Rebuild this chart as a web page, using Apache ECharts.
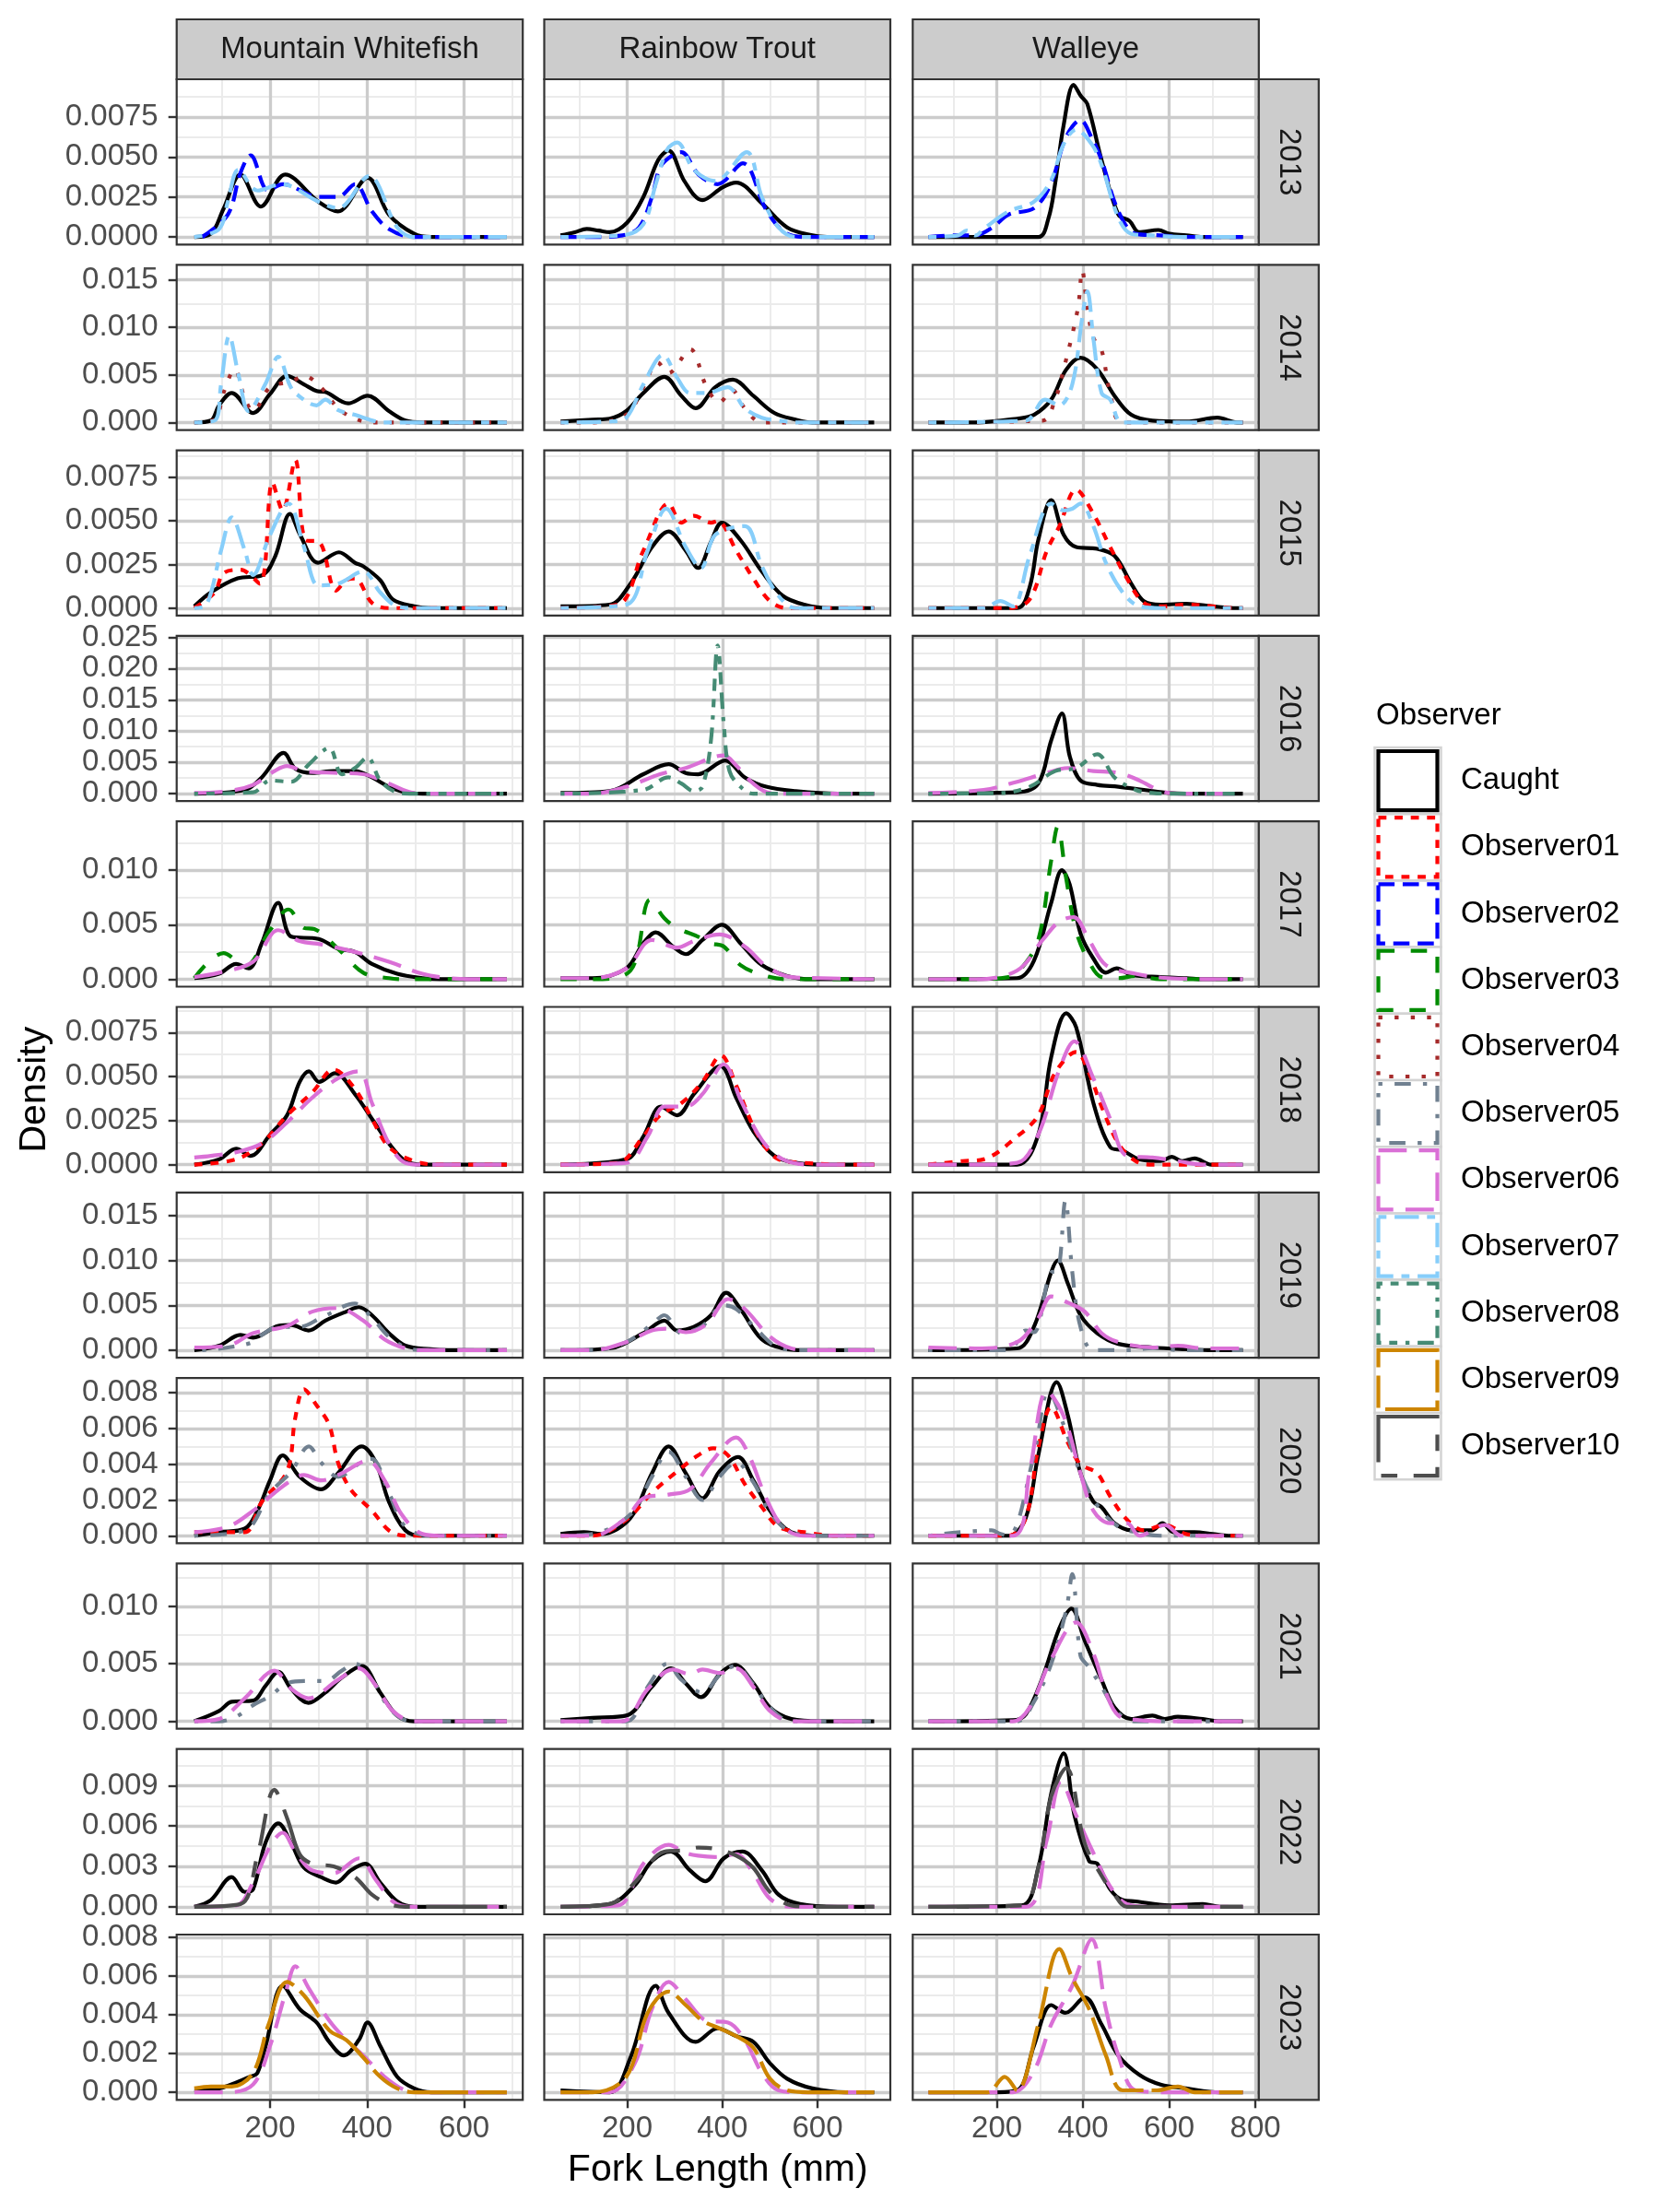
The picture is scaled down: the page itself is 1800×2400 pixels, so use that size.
<!DOCTYPE html>
<html>
<head>
<meta charset="utf-8">
<script src="https://cdn.jsdelivr.net/npm/echarts@6/dist/echarts.min.js"></script>
<style>
  html, body { margin: 0; padding: 0; background: #fff; }
  #chart { width: 1800px; height: 2400px; }
</style>
</head>
<body>
<div id="chart"></div>
<script>
// facets, observers and scales
var species = ['Mountain Whitefish', 'Rainbow Trout', 'Walleye'];
var years = ['2013', '2014', '2015', '2016', '2017', '2018', '2019', '2020', '2021', '2022', '2023'];
var observers = ['Caught', 'Observer01', 'Observer02', 'Observer03', 'Observer04', 'Observer05',
  'Observer06', 'Observer07', 'Observer08', 'Observer09', 'Observer10'];
var obsColors = ['#000000', '#FF0000', '#0000FF', '#008B00', '#A52A2A', '#708090',
  '#DA70D6', '#87CEFA', '#458B74', '#CD8500', '#4D4D4D'];
var obsLty = ['solid', '22', '42', '44', '13', '1343', '73', '2262', '12223242', 'F282', 'F4448444'];

var xLimits = [[7.6, 720.8], [25.7, 752.9], [4.6, 808]];
var xBreaks = [[200, 400, 600], [200, 400, 600], [200, 400, 600, 800]];

var yLimits = [[-0.00047, 0.00985], [-0.0008, 0.01658], [-0.00043, 0.00905], [-0.0012, 0.02523],
  [-0.00068, 0.01448], [-0.00043, 0.00896], [-0.00084, 0.0176], [-0.00042, 0.00883],
  [-0.00065, 0.01372], [-0.00056, 0.01172], [-0.00039, 0.00814]];
var yBreaks = [[0, 0.0025, 0.005, 0.0075], [0, 0.005, 0.01, 0.015], [0, 0.0025, 0.005, 0.0075],
  [0, 0.005, 0.01, 0.015, 0.02, 0.025], [0, 0.005, 0.01], [0, 0.0025, 0.005, 0.0075],
  [0, 0.005, 0.01, 0.015], [0, 0.002, 0.004, 0.006, 0.008], [0, 0.005, 0.01],
  [0, 0.003, 0.006, 0.009], [0, 0.002, 0.004, 0.006, 0.008]];
var yDigits = [4, 3, 4, 3, 3, 4, 3, 3, 3, 3, 3];

// density curves: [fork length, density]
var mwf13_caught = [[44,0],[78,0.0002],[104,0.00175],[139,0.0039],[181,0.0019],[231,0.0039],[300,0.0022],[340,0.0016],[401,0.0037],[445,0.0014],[497,0.0002],[532,0],[688,0]];
var mwf13_obs02 = [[60,0],[113,0.0014],[139,0.004],[160,0.0051],[196,0.0029],[226,0.0033],[300,0.0025],[340,0.0025],[375,0.0033],[410,0.0016],[445,0.0005],[497,0],[688,0]];
var mwf13_obs07 = [[44,0],[95,0.0005],[113,0.0022],[135,0.0042],[174,0.0029],[223,0.0033],[300,0.0022],[340,0.0018],[404,0.0038],[462,0.0006],[497,0],[688,0]];
var rbt13_caught = [[60,0.0001],[90,0.0003],[115,0.0005],[140,0.0004],[163,0.0003],[200,0.0009],[234,0.0025],[265,0.0048],[287,0.0054],[320,0.0035],[358,0.0023],[400,0.0031],[429,0.0034],[483,0.0021],[536,0.0006],[589,0.0001],[620,0],[719,0]];
var rbt13_obs02 = [[60,0],[127,0],[190,0.0001],[225,0.0006],[252,0.0025],[270,0.0044],[300,0.0052],[314,0.0053],[350,0.0039],[390,0.0033],[443,0.0046],[492,0.0017],[536,0.0002],[580,0],[719,0]];
var rbt13_obs07 = [[60,0],[190,0.0001],[234,0.0008],[260,0.0033],[285,0.0055],[305,0.0059],[340,0.0042],[385,0.0035],[451,0.0053],[483,0.0025],[518,0.0006],[554,0],[719,0]];
var wae13_caught = [[41,0],[296,0],[320,0.0012],[335,0.0033],[355,0.007],[378,0.0095],[395,0.0088],[410,0.0083],[443,0.0048],[482,0.0014],[508,0.001],[530,0.0003],[575,0.00044],[600,0.0002],[640,0.0001],[678,0],[771,0]];
var wae13_obs02 = [[41,0],[100,0.0001],[149,0.0001],[190,0.0006],[227,0.0014],[286,0.0018],[325,0.0033],[360,0.0062],[394,0.0073],[420,0.0062],[443,0.0048],[482,0.0016],[522,0.0002],[580,0.0001],[640,0],[771,0]];
var wae13_obs07 = [[41,0],[110,0.0001],[130,0.0004],[150,0.0001],[169,0.0005],[227,0.0016],[286,0.0022],[325,0.0035],[355,0.0058],[384,0.0067],[420,0.0058],[443,0.0045],[482,0.0012],[512,0.0002],[560,0.0001],[640,0],[771,0]];

var mwf14_caught = [[44,0],[78,0.0002],[95,0.0018],[121,0.0031],[165,0.001],[200,0.003],[235,0.0049],[270,0.004],[296,0.0033],[314,0.0032],[361,0.002],[401,0.0028],[445,0.0012],[479,0.0002],[514,0],[688,0]];
var mwf14_obs04 = [[44,0],[86,0.0003],[104,0.0031],[127,0.0056],[148,0.0025],[165,0.0012],[200,0.0037],[244,0.0043],[270,0.0049],[305,0.0037],[340,0.0015],[375,0.0004],[410,0],[688,0]];
var mwf14_obs07 = [[44,0],[86,0.0002],[99,0.004],[116,0.0091],[135,0.005],[156,0.0012],[190,0.004],[217,0.0069],[240,0.004],[252,0.0031],[296,0.0018],[314,0.0024],[340,0.0013],[375,0.0008],[418,0.0001],[436,0],[688,0]];
var rbt14_caught = [[60,0.0001],[127,0.0003],[163,0.0004],[198,0.0012],[234,0.0031],[278,0.0048],[314,0.0028],[344,0.0015],[385,0.0037],[422,0.0045],[465,0.0028],[509,0.001],[554,0.0003],[589,0],[719,0]];
var rbt14_obs04 = [[60,0],[127,0],[198,0.0008],[234,0.0037],[264,0.0063],[287,0.0052],[332,0.0077],[367,0.0037],[394,0.0021],[420,0.0034],[447,0.0015],[483,0],[719,0]];
var rbt14_obs07 = [[60,0],[163,0.0001],[198,0.0005],[234,0.004],[275,0.0071],[305,0.0047],[332,0.0031],[367,0.0031],[411,0.0037],[447,0.0015],[483,0.0005],[518,0.0002],[560,0],[719,0]];
var wae14_caught = [[41,0],[150,0],[247,0.0004],[286,0.0008],[326,0.0024],[360,0.0055],[394,0.0068],[433,0.0056],[473,0.0028],[512,0.0008],[561,0.0002],[640,0.0001],[712,0.0005],[757,0],[771,0]];
var wae14_obs04 = [[41,0],[306,0.0002],[335,0.0024],[355,0.0056],[388,0.012],[398,0.016],[410,0.012],[424,0.0089],[443,0.0076],[463,0.0031],[492,0],[771,0]];
var wae14_obs07 = [[41,0],[267,0.0002],[312,0.0024],[345,0.0018],[375,0.004],[398,0.011],[410,0.0138],[424,0.0088],[443,0.0031],[463,0.0024],[492,0],[771,0]];

var mwf15_caught = [[44,0.0001],[78,0.0009],[133,0.0017],[185,0.0019],[211,0.003],[241,0.0054],[262,0.0042],[299,0.0026],[342,0.0032],[375,0.0026],[392,0.0024],[427,0.0016],[453,0.0005],[497,0.0001],[532,0],[688,0]];
var mwf15_obs01 = [[44,0],[86,0.0009],[104,0.002],[139,0.0022],[179,0.0014],[205,0.0072],[226,0.0056],[252,0.0085],[273,0.0039],[301,0.0038],[336,0.001],[357,0.0016],[375,0.0017],[410,0.0003],[445,0],[688,0]];
var mwf15_obs07 = [[44,0],[69,0.0002],[99,0.0033],[121,0.0052],[148,0.0033],[165,0.0019],[200,0.0042],[238,0.006],[270,0.0035],[300,0.0013],[340,0.0014],[392,0.0021],[427,0.0009],[462,0.0001],[497,0],[688,0]];
var rbt15_caught = [[60,0.0001],[163,0.0002],[207,0.0014],[252,0.0035],[287,0.0044],[323,0.0033],[349,0.0023],[376,0.0038],[399,0.0049],[438,0.0039],[483,0.0021],[527,0.0007],[572,0.0002],[625,0],[719,0]];
var rbt15_obs01 = [[60,0],[180,0.0002],[234,0.0033],[287,0.006],[314,0.0049],[340,0.0053],[376,0.0049],[390,0.005],[429,0.0033],[465,0.0017],[500,0.0004],[536,0],[719,0]];
var rbt15_obs07 = [[60,0],[198,0.0002],[243,0.0033],[282,0.0057],[323,0.0035],[355,0.0023],[385,0.0042],[447,0.0047],[483,0.0024],[518,0.0007],[554,0],[719,0]];
var wae15_caught = [[41,0],[247,0],[276,0.0012],[296,0.0039],[326,0.0062],[355,0.0042],[384,0.0035],[433,0.0034],[473,0.003],[512,0.0014],[541,0.0004],[580,0.0002],[640,0.00025],[700,0.0001],[757,0],[771,0]];
var wae15_obs01 = [[41,0],[227,0],[276,0.0005],[316,0.0033],[345,0.0047],[384,0.0068],[424,0.0054],[463,0.0035],[502,0.0017],[541,0.0003],[580,0.0001],[640,0.0002],[700,0.0001],[757,0],[771,0]];
var wae15_obs07 = [[41,0],[170,0],[208,0.0004],[237,0.0001],[276,0.003],[326,0.006],[355,0.0056],[375,0.0057],[394,0.006],[424,0.0047],[453,0.0026],[492,0.0009],[531,0.0001],[580,0],[771,0]];

var mwf16_caught = [[44,0],[148,0.0006],[183,0.0026],[228,0.0065],[252,0.004],[287,0.0033],[331,0.0036],[375,0.0036],[410,0.0026],[445,0.0011],[479,0.0002],[514,0],[688,0]];
var mwf16_obs06 = [[44,0.0001],[113,0.0004],[165,0.0014],[209,0.0036],[235,0.0044],[270,0.0036],[340,0.0033],[392,0.0031],[445,0.0016],[497,0.0001],[532,0],[688,0]];
var mwf16_obs08 = [[44,0],[165,0.0002],[200,0.0021],[244,0.0019],[279,0.0046],[322,0.0073],[348,0.0031],[375,0.0041],[401,0.0058],[427,0.0021],[462,0.0002],[497,0],[688,0]];
var rbt16_caught = [[60,0.0001],[163,0.0004],[234,0.0031],[287,0.0047],[323,0.0033],[349,0.0031],[406,0.0053],[447,0.0026],[492,0.0011],[554,0.0004],[643,0],[719,0]];
var rbt16_obs06 = [[60,0],[127,0],[198,0.0011],[269,0.0031],[323,0.0041],[403,0.0061],[429,0.0045],[465,0.0016],[500,0.0001],[536,0],[719,0]];
var rbt16_obs08 = [[60,0],[234,0.0006],[287,0.0026],[314,0.0016],[340,0.0004],[358,0.0011],[376,0.0085],[390,0.0237],[403,0.011],[415,0.0036],[438,0.0011],[465,0],[719,0]];
var wae16_caught = [[41,0],[247,0.0002],[296,0.0016],[326,0.0085],[351,0.0128],[369,0.006],[394,0.0021],[433,0.0014],[482,0.0011],[541,0.0006],[600,0.0001],[639,0],[771,0]];
var wae16_obs06 = [[41,0.0001],[169,0.0006],[247,0.0019],[306,0.0031],[365,0.0041],[424,0.0036],[482,0.0033],[531,0.0021],[580,0.0004],[620,0],[771,0]];
var wae16_obs08 = [[41,0],[208,0.0001],[276,0.0011],[335,0.0036],[384,0.0041],[433,0.0063],[473,0.0026],[522,0.0006],[561,0.0001],[600,0],[771,0]];

var mwf17_caught = [[44,0.0001],[95,0.0005],[130,0.0014],[156,0.001],[183,0.0033],[217,0.007],[244,0.0039],[300,0.0037],[340,0.0028],[375,0.0025],[410,0.0014],[462,0.0005],[514,0.0001],[549,0],[688,0]];
var mwf17_obs03 = [[44,0.0001],[104,0.0024],[148,0.0012],[200,0.0045],[238,0.0064],[270,0.0047],[291,0.0046],[340,0.0028],[392,0.0006],[445,0.0001],[480,0],[688,0]];
var mwf17_obs06 = [[44,0.0002],[95,0.0006],[165,0.0016],[217,0.0045],[261,0.0035],[305,0.0032],[375,0.0025],[445,0.0016],[514,0.0005],[567,0.0001],[610,0],[688,0]];
var rbt17_caught = [[60,0.0001],[127,0.0001],[198,0.001],[234,0.0033],[260,0.0043],[296,0.003],[323,0.0023],[358,0.0036],[399,0.005],[438,0.0033],[483,0.0013],[536,0.0003],[589,0],[719,0]];
var rbt17_obs03 = [[60,0],[127,0],[207,0.0008],[248,0.0073],[278,0.0056],[305,0.0047],[349,0.0039],[376,0.0033],[403,0.003],[438,0.0013],[483,0.0004],[536,0],[719,0]];
var rbt17_obs06 = [[60,0.0001],[127,0.0001],[198,0.001],[252,0.0036],[305,0.0029],[340,0.0035],[394,0.0041],[447,0.003],[492,0.0012],[545,0.0002],[607,0.0001],[719,0]];
var wae17_caught = [[41,0],[247,0.0001],[286,0.0017],[326,0.007],[351,0.01],[369,0.0087],[394,0.0042],[424,0.0019],[453,0.0006],[478,0.001],[512,0.0004],[580,0.0002],[640,0.0001],[678,0],[771,0]];
var wae17_obs03 = [[41,0],[149,0],[227,0.0002],[257,0.001],[296,0.0036],[326,0.0109],[341,0.014],[361,0.0092],[384,0.0044],[414,0.0016],[443,0.0002],[482,0.0001],[522,0.0003],[580,0],[771,0]];
var wae17_obs06 = [[41,0],[149,0],[247,0.0008],[306,0.0036],[345,0.0053],[378,0.0057],[414,0.0036],[453,0.0013],[522,0.0005],[600,0.0001],[757,0],[771,0]];

var mwf18_caught = [[44,0],[95,0.0003],[130,0.0009],[160,0.0005],[200,0.0017],[235,0.0028],[261,0.0047],[280,0.0053],[301,0.0047],[334,0.0052],[375,0.004],[410,0.0026],[445,0.0012],[479,0.0002],[514,0],[688,0]];
var mwf18_obs01 = [[44,0],[130,0.0003],[183,0.0012],[235,0.0028],[287,0.0041],[331,0.0054],[375,0.0043],[410,0.0026],[445,0.001],[497,0.0002],[549,0],[688,0]];
var mwf18_obs06 = [[44,0.0004],[78,0.0005],[130,0.0007],[183,0.0012],[235,0.0024],[287,0.0038],[340,0.0049],[383,0.0053],[410,0.0035],[445,0.0012],[479,0.0001],[514,0],[688,0]];
var rbt18_caught = [[60,0],[198,0.0003],[234,0.0016],[271,0.0033],[305,0.0028],[340,0.004],[396,0.0056],[429,0.0038],[465,0.0019],[509,0.0005],[554,0.0001],[607,0],[719,0]];
var rbt18_obs01 = [[60,0],[180,0.0001],[234,0.0016],[269,0.0028],[314,0.0035],[358,0.0047],[397,0.0062],[429,0.0045],[474,0.0017],[518,0.0003],[572,0.0001],[660,0],[719,0]];
var rbt18_obs06 = [[60,0],[198,0.0001],[243,0.0016],[278,0.0033],[323,0.0033],[358,0.004],[403,0.0057],[438,0.0037],[483,0.0014],[527,0.0003],[589,0],[719,0]];
var wae18_caught = [[41,0],[247,0],[296,0.0017],[326,0.0061],[361,0.0086],[384,0.0078],[424,0.0035],[463,0.001],[492,0.0008],[531,0.0003],[580,0.0002],[606,0.00044],[630,0.0002],[659,0.00035],[698,0],[771,0]];
var wae18_obs01 = [[41,0],[120,0.0002],[169,0.0003],[247,0.0016],[296,0.0028],[335,0.0052],[384,0.0064],[414,0.0052],[443,0.0033],[482,0.0012],[522,0.0002],[561,0],[771,0]];
var wae18_obs06 = [[41,0],[149,0],[247,0.0001],[296,0.0017],[345,0.0054],[380,0.007],[424,0.0049],[463,0.0026],[502,0.0005],[561,0.0004],[620,0.0002],[678,0],[771,0]];

var mwf19_caught = [[44,0],[95,0.0005],[139,0.0017],[165,0.0014],[217,0.0027],[244,0.0028],[279,0.0022],[314,0.0033],[357,0.0043],[383,0.0048],[410,0.0039],[445,0.0019],[479,0.0005],[532,0.0001],[567,0],[688,0]];
var mwf19_obs05 = [[60,0],[113,0.0003],[165,0.0009],[183,0.0017],[217,0.0026],[261,0.0026],[305,0.0036],[375,0.0052],[410,0.0036],[445,0.0015],[479,0.0003],[514,0],[688,0]];
var mwf19_obs06 = [[44,0.0003],[113,0.0005],[165,0.0019],[235,0.0027],[287,0.0043],[340,0.0047],[392,0.0033],[436,0.0012],[479,0.0002],[514,0],[688,0]];
var rbt19_caught = [[60,0],[163,0.0002],[234,0.0019],[278,0.0033],[305,0.0022],[340,0.0026],[376,0.0039],[408,0.0064],[438,0.0046],[483,0.0012],[527,0.0002],[572,0],[719,0]];
var rbt19_obs05 = [[60,0],[127,0],[198,0.0009],[252,0.0029],[278,0.0039],[314,0.0019],[358,0.0027],[403,0.005],[429,0.0046],[474,0.0022],[518,0.0003],[572,0],[719,0]];
var rbt19_obs06 = [[60,0],[127,0],[198,0.0009],[252,0.0022],[287,0.0024],[323,0.002],[367,0.0029],[412,0.0057],[447,0.0046],[500,0.0015],[545,0.0002],[590,0],[719,0]];
var wae19_caught = [[41,0],[247,0.0002],[286,0.0026],[326,0.0087],[341,0.01],[365,0.0074],[394,0.0039],[433,0.0019],[482,0.0007],[561,0.0003],[639,0.0001],[700,0],[771,0]];
var wae19_obs05 = [[41,0],[227,0],[267,0.0022],[286,0.002],[326,0.0087],[341,0.0088],[359,0.0167],[375,0.0087],[394,0.0026],[424,0],[500,0],[580,0.0003],[620,0],[771,0]];
var wae19_obs06 = [[41,0.0003],[149,0.0002],[247,0.0009],[296,0.0036],[326,0.006],[365,0.0053],[404,0.0043],[443,0.0019],[482,0.0009],[561,0.0003],[620,0.0005],[680,0.0002],[771,0.0002]];

var mwf20_caught = [[44,0],[95,0.0002],[148,0.0004],[174,0.0014],[200,0.0031],[226,0.0045],[261,0.0033],[305,0.0026],[340,0.0035],[389,0.005],[418,0.0041],[445,0.0019],[479,0.0003],[514,0],[688,0]];
var mwf20_obs01 = [[44,0.0002],[95,0.0002],[148,0.0002],[183,0.0019],[235,0.0036],[252,0.0066],[270,0.0082],[296,0.0073],[322,0.0062],[340,0.0041],[366,0.0026],[410,0.0014],[445,0.0003],[479,0],[688,0]];
var mwf20_obs05 = [[44,0],[148,0.0003],[200,0.0024],[244,0.0036],[280,0.005],[305,0.0041],[340,0.0033],[392,0.0042],[410,0.0043],[445,0.0024],[479,0.0005],[532,0],[688,0]];
var mwf20_obs06 = [[44,0.0002],[113,0.0005],[165,0.0014],[209,0.0024],[244,0.0031],[270,0.0034],[305,0.0031],[348,0.0035],[401,0.0042],[436,0.0031],[471,0.0012],[514,0.0001],[549,0],[688,0]];
var rbt20_caught = [[60,0.0001],[109,0.0002],[145,0.0001],[207,0.001],[252,0.0035],[287,0.005],[323,0.0035],[358,0.0021],[394,0.0036],[433,0.0044],[465,0.0031],[500,0.0014],[545,0.0002],[607,0],[719,0]];
var rbt20_obs01 = [[60,0],[127,0],[198,0.0009],[252,0.0024],[305,0.0036],[349,0.0045],[381,0.0049],[412,0.0045],[447,0.0029],[483,0.0016],[518,0.0005],[572,0.0002],[640,0],[719,0]];
var rbt20_obs05 = [[60,0],[127,0.0001],[207,0.0012],[252,0.0033],[287,0.0047],[323,0.0033],[358,0.002],[394,0.0033],[429,0.0041],[465,0.003],[500,0.0013],[545,0.0002],[607,0],[719,0]];
var rbt20_obs06 = [[60,0],[127,0],[198,0.001],[234,0.0021],[287,0.0023],[332,0.0026],[376,0.0041],[429,0.0055],[456,0.0045],[492,0.0021],[527,0.0005],[572,0],[719,0]];
var wae20_caught = [[41,0],[227,0],[267,0.001],[296,0.0045],[339,0.0086],[365,0.0067],[394,0.0035],[424,0.0019],[443,0.0016],[473,0.0007],[512,0.0003],[560,0.0003],[584,0.0007],[610,0.0002],[659,0.0002],[700,0.0001],[737,0],[771,0]];
var wae20_obs01 = [[41,0],[227,0],[267,0.001],[296,0.0049],[326,0.0072],[365,0.0052],[394,0.004],[433,0.0035],[463,0.0022],[502,0.0009],[541,0.0003],[590,0.0006],[639,0.0001],[700,0],[771,0]];
var wae20_obs05 = [[41,0],[188,0.0003],[208,0.0001],[227,0],[286,0.0045],[320,0.0081],[355,0.0062],[394,0.0035],[433,0.0017],[482,0.0005],[522,0.0002],[580,0],[771,0]];
var wae20_obs06 = [[41,0],[237,0],[276,0.0036],[316,0.0081],[355,0.0067],[394,0.0035],[424,0.0014],[463,0.0007],[502,0.0007],[531,0],[590,0.0006],[629,0],[771,0]];

var mwf21_caught = [[44,0],[95,0.0009],[121,0.0017],[165,0.0018],[191,0.0031],[217,0.0043],[244,0.0028],[279,0.0016],[314,0.0025],[348,0.0038],[389,0.0048],[427,0.0025],[462,0.0005],[497,0],[688,0]];
var mwf21_obs05 = [[44,0],[95,0],[130,0.0004],[165,0.0014],[200,0.0022],[235,0.0033],[270,0.0035],[314,0.0035],[348,0.0044],[375,0.005],[410,0.0036],[445,0.0012],[479,0.0001],[514,0],[688,0]];
var mwf21_obs06 = [[44,0],[95,0.0002],[148,0.002],[209,0.0044],[244,0.0028],[279,0.002],[340,0.0036],[383,0.0046],[418,0.0031],[453,0.0009],[497,0],[688,0]];
var rbt21_caught = [[60,0.0001],[127,0.0003],[198,0.0005],[252,0.003],[292,0.0046],[323,0.0033],[355,0.0021],[394,0.0041],[426,0.0049],[465,0.0033],[500,0.0012],[545,0.0002],[607,0],[719,0]];
var rbt21_obs05 = [[60,0],[198,0],[243,0.003],[284,0.005],[314,0.0036],[358,0.0025],[394,0.004],[426,0.0048],[465,0.0032],[500,0.0012],[545,0],[719,0]];
var rbt21_obs06 = [[60,0],[189,0],[243,0.0028],[296,0.0045],[332,0.0041],[358,0.0045],[394,0.0042],[429,0.0046],[465,0.003],[500,0.0009],[545,0],[719,0]];
var wae21_caught = [[41,0],[237,0.0001],[267,0.0006],[306,0.0038],[345,0.0081],[373,0.0098],[404,0.007],[443,0.0036],[473,0.0012],[512,0.0002],[561,0.0005],[590,0.0002],[620,0.0004],[678,0.0002],[718,0],[771,0]];
var wae21_obs05 = [[41,0],[247,0],[286,0.0017],[326,0.005],[361,0.0097],[375,0.0128],[394,0.0057],[414,0.0047],[443,0.003],[482,0.0007],[522,0],[771,0]];
var wae21_obs06 = [[41,0],[237,0],[276,0.0012],[326,0.0054],[384,0.0086],[424,0.0059],[453,0.0025],[482,0.0005],[531,0.0001],[600,0],[771,0]];

var mwf22_caught = [[44,0],[78,0.0005],[121,0.0022],[148,0.0011],[165,0.0013],[191,0.0048],[217,0.0062],[244,0.0047],[270,0.0029],[305,0.0022],[336,0.0018],[366,0.0027],[396,0.0032],[427,0.0018],[462,0.0004],[497,0],[688,0]];
var mwf22_obs06 = [[44,0],[130,0.0001],[165,0.0018],[200,0.0045],[226,0.0055],[252,0.0041],[287,0.0027],[331,0.0025],[383,0.0036],[418,0.002],[453,0.0004],[488,0],[688,0]];
var mwf22_obs10 = [[44,0],[139,0.0002],[174,0.0038],[209,0.0087],[235,0.0066],[261,0.0039],[287,0.0032],[331,0.003],[375,0.0022],[410,0.0009],[445,0.0002],[479,0],[688,0]];
var rbt22_caught = [[60,0],[163,0.0002],[216,0.0016],[252,0.0034],[292,0.0041],[332,0.0027],[364,0.0019],[403,0.0036],[442,0.0041],[483,0.0027],[518,0.0009],[563,0.0002],[643,0],[719,0]];
var rbt22_obs06 = [[60,0],[180,0.0001],[234,0.0032],[287,0.0046],[323,0.004],[349,0.0038],[385,0.0037],[429,0.0039],[465,0.0025],[500,0.0006],[545,0],[719,0]];
var rbt22_obs10 = [[60,0],[163,0.0002],[216,0.0018],[278,0.0041],[323,0.0042],[349,0.0044],[385,0.0043],[429,0.0038],[465,0.0029],[500,0.0011],[545,0.0001],[590,0],[719,0]];
var wae22_caught = [[41,0],[257,0.0001],[296,0.0029],[326,0.0084],[355,0.0114],[380,0.0068],[414,0.0034],[433,0.0032],[463,0.0013],[492,0.0005],[522,0.0004],[600,0.0001],[678,0.0002],[718,0],[771,0]];
var wae22_obs06 = [[41,0],[267,0],[316,0.005],[349,0.0093],[384,0.0068],[424,0.004],[463,0.0015],[502,0.0002],[561,0],[771,0]];
var wae22_obs10 = [[41,0],[257,0.0001],[296,0.0029],[326,0.0082],[361,0.0103],[404,0.0047],[443,0.0023],[473,0.0009],[502,0],[771,0]];

var mwf23_caught = [[44,0.0001],[95,0.0002],[159,0.0008],[174,0.001],[191,0.0024],[226,0.0055],[261,0.0043],[296,0.0036],[322,0.0026],[352,0.0019],[383,0.0027],[401,0.0036],[427,0.0024],[462,0.0008],[497,0.0002],[532,0],[688,0]];
var mwf23_obs06 = [[44,0],[113,0],[165,0.0004],[200,0.0024],[235,0.0054],[252,0.0065],[279,0.0054],[322,0.0037],[357,0.0027],[392,0.0019],[436,0.0008],[479,0.0001],[514,0],[688,0]];
var mwf23_obs09 = [[44,0.0002],[78,0.0003],[121,0.0003],[165,0.001],[197,0.0035],[235,0.0057],[270,0.005],[322,0.0032],[357,0.0027],[392,0.0018],[427,0.0008],[462,0.0002],[497,0],[688,0]];
var rbt23_caught = [[60,0.0001],[163,0],[207,0.0018],[260,0.0055],[287,0.0041],[344,0.0026],[390,0.0033],[429,0.0029],[465,0.0026],[500,0.0015],[536,0.0007],[589,0.0002],[660,0],[719,0]];
var rbt23_obs06 = [[60,0],[163,0],[216,0.0015],[252,0.0043],[287,0.0057],[323,0.0048],[367,0.0037],[412,0.0036],[447,0.0027],[483,0.001],[518,0.0001],[560,0],[719,0]];
var rbt23_obs09 = [[60,0],[127,0],[198,0.0008],[243,0.0041],[287,0.0052],[323,0.0045],[358,0.0037],[394,0.0033],[429,0.0029],[465,0.0023],[500,0.0007],[536,0.0001],[580,0],[719,0]];
var wae23_caught = [[41,0],[188,0],[247,0.0001],[286,0.0024],[326,0.0045],[359,0.0041],[404,0.0049],[443,0.0035],[482,0.0019],[531,0.0009],[580,0.0004],[639,0.0002],[718,0],[771,0]];
var wae23_obs06 = [[41,0],[237,0],[286,0.0011],[326,0.0035],[375,0.0055],[420,0.0079],[453,0.0043],[482,0.0019],[522,0.0001],[600,0],[771,0]];
var wae23_obs09 = [[41,0],[178,0],[218,0.0008],[247,0.0001],[296,0.0035],[345,0.0074],[375,0.0059],[414,0.0043],[453,0.0019],[492,0.0001],[571,0.0001],[620,0.0003],[659,0],[771,0]];

// [row (year), column (species), observer index, curve]
var panelCurves = [
  [0,0,0,mwf13_caught],[0,0,2,mwf13_obs02],[0,0,7,mwf13_obs07],
  [0,1,0,rbt13_caught],[0,1,2,rbt13_obs02],[0,1,7,rbt13_obs07],
  [0,2,0,wae13_caught],[0,2,2,wae13_obs02],[0,2,7,wae13_obs07],
  [1,0,0,mwf14_caught],[1,0,4,mwf14_obs04],[1,0,7,mwf14_obs07],
  [1,1,0,rbt14_caught],[1,1,4,rbt14_obs04],[1,1,7,rbt14_obs07],
  [1,2,0,wae14_caught],[1,2,4,wae14_obs04],[1,2,7,wae14_obs07],
  [2,0,0,mwf15_caught],[2,0,1,mwf15_obs01],[2,0,7,mwf15_obs07],
  [2,1,0,rbt15_caught],[2,1,1,rbt15_obs01],[2,1,7,rbt15_obs07],
  [2,2,0,wae15_caught],[2,2,1,wae15_obs01],[2,2,7,wae15_obs07],
  [3,0,0,mwf16_caught],[3,0,6,mwf16_obs06],[3,0,8,mwf16_obs08],
  [3,1,0,rbt16_caught],[3,1,6,rbt16_obs06],[3,1,8,rbt16_obs08],
  [3,2,0,wae16_caught],[3,2,6,wae16_obs06],[3,2,8,wae16_obs08],
  [4,0,0,mwf17_caught],[4,0,3,mwf17_obs03],[4,0,6,mwf17_obs06],
  [4,1,0,rbt17_caught],[4,1,3,rbt17_obs03],[4,1,6,rbt17_obs06],
  [4,2,0,wae17_caught],[4,2,3,wae17_obs03],[4,2,6,wae17_obs06],
  [5,0,0,mwf18_caught],[5,0,1,mwf18_obs01],[5,0,6,mwf18_obs06],
  [5,1,0,rbt18_caught],[5,1,1,rbt18_obs01],[5,1,6,rbt18_obs06],
  [5,2,0,wae18_caught],[5,2,1,wae18_obs01],[5,2,6,wae18_obs06],
  [6,0,0,mwf19_caught],[6,0,5,mwf19_obs05],[6,0,6,mwf19_obs06],
  [6,1,0,rbt19_caught],[6,1,5,rbt19_obs05],[6,1,6,rbt19_obs06],
  [6,2,0,wae19_caught],[6,2,5,wae19_obs05],[6,2,6,wae19_obs06],
  [7,0,0,mwf20_caught],[7,0,1,mwf20_obs01],[7,0,5,mwf20_obs05],[7,0,6,mwf20_obs06],
  [7,1,0,rbt20_caught],[7,1,1,rbt20_obs01],[7,1,5,rbt20_obs05],[7,1,6,rbt20_obs06],
  [7,2,0,wae20_caught],[7,2,1,wae20_obs01],[7,2,5,wae20_obs05],[7,2,6,wae20_obs06],
  [8,0,0,mwf21_caught],[8,0,5,mwf21_obs05],[8,0,6,mwf21_obs06],
  [8,1,0,rbt21_caught],[8,1,5,rbt21_obs05],[8,1,6,rbt21_obs06],
  [8,2,0,wae21_caught],[8,2,5,wae21_obs05],[8,2,6,wae21_obs06],
  [9,0,0,mwf22_caught],[9,0,6,mwf22_obs06],[9,0,10,mwf22_obs10],
  [9,1,0,rbt22_caught],[9,1,6,rbt22_obs06],[9,1,10,rbt22_obs10],
  [9,2,0,wae22_caught],[9,2,6,wae22_obs06],[9,2,10,wae22_obs10],
  [10,0,0,mwf23_caught],[10,0,6,mwf23_obs06],[10,0,9,mwf23_obs09],
  [10,1,0,rbt23_caught],[10,1,6,rbt23_obs06],[10,1,9,rbt23_obs09],
  [10,2,0,wae23_caught],[10,2,6,wae23_obs06],[10,2,9,wae23_obs09]
];

// layout
var FONT = '"Liberation Sans", Arial, Helvetica, sans-serif';
var colLeft = [191.7, 590.5, 990.3];
var colWidth = 375.5;
var rowTop0 = 86, rowPitch = 201.3, rowHeight = 179.3;
var LTY_UNIT = 4.4, LINE_W = 4.2;
var stripTop = 21, stripSize = 65;

function rowTop(r) { return rowTop0 + r * rowPitch; }

function ltyDash(code) {
  if (code === 'solid') return 'solid';
  return code.split('').map(function (ch) { return parseInt(ch, 16) * LTY_UNIT; });
}

function minorsOf(breaks, lo, hi) {
  var step = breaks[1] - breaks[0], out = [];
  for (var v = breaks[0] - step / 2; v < hi; v += step) {
    if (v > lo) out.push(v);
  }
  return out;
}

var grids = [], xAxes = [], yAxes = [], series = [], graphics = [];

for (var r = 0; r < years.length; r++) {
  for (var c = 0; c < species.length; c++) {
    var g = r * 3 + c;
    var digits = yDigits[r];
    grids.push({ left: colLeft[c], top: rowTop(r), width: colWidth, height: rowHeight, containLabel: false });
    xAxes.push({
      gridIndex: g, type: 'value', min: xLimits[c][0], max: xLimits[c][1],
      axisLine: { show: false, onZero: false },
      splitLine: { show: false },
      axisTick: { show: r === years.length - 1, customValues: xBreaks[c], length: 9,
        lineStyle: { color: '#333333', width: 2.4 } },
      axisLabel: { show: r === years.length - 1, customValues: xBreaks[c], margin: 15,
        fontSize: 33, color: '#4D4D4D', fontFamily: FONT }
    });
    yAxes.push({
      gridIndex: g, type: 'value', min: yLimits[r][0], max: yLimits[r][1],
      axisLine: { show: false, onZero: false },
      splitLine: { show: false },
      axisTick: { show: c === 0, customValues: yBreaks[r], length: 9,
        lineStyle: { color: '#333333', width: 2.4 } },
      axisLabel: { show: c === 0, customValues: yBreaks[r], margin: 20,
        fontSize: 33, color: '#4D4D4D', fontFamily: FONT,
        formatter: (function (d) { return function (v) { return v.toFixed(d); }; })(digits) }
    });

    // panel grid lines (minor first, then major)
    var lines = [];
    minorsOf(yBreaks[r], yLimits[r][0], yLimits[r][1]).forEach(function (v) {
      lines.push({ yAxis: v, lineStyle: { color: '#EBEBEB', width: 1.9, type: 'solid' } });
    });
    minorsOf(xBreaks[c], xLimits[c][0], xLimits[c][1]).forEach(function (v) {
      lines.push({ xAxis: v, lineStyle: { color: '#EBEBEB', width: 1.9, type: 'solid' } });
    });
    yBreaks[r].forEach(function (v) {
      lines.push({ yAxis: v, lineStyle: { color: '#CCCCCC', width: 3.3, type: 'solid' } });
    });
    xBreaks[c].forEach(function (v) {
      lines.push({ xAxis: v, lineStyle: { color: '#CCCCCC', width: 3.3, type: 'solid' } });
    });
    series.push({
      type: 'line', xAxisIndex: g, yAxisIndex: g, silent: true, z: 1,
      data: [[xLimits[c][0], yLimits[r][0]]], symbol: 'none', lineStyle: { opacity: 0 },
      markLine: { silent: true, z: 1, precision: 12, symbol: ['none', 'none'], label: { show: false },
        lineStyle: { color: '#EBEBEB', width: 1.9, type: 'solid' },
        emphasis: { disabled: true }, animation: false, data: lines }
    });

    // panel border
    graphics.push({ type: 'rect', z: 100, silent: true,
      shape: { x: colLeft[c], y: rowTop(r), width: colWidth, height: rowHeight },
      style: { fill: 'none', stroke: '#333333', lineWidth: 2.2 } });
  }
}

panelCurves.forEach(function (pc) {
  var g = pc[0] * 3 + pc[1], o = pc[2];
  series.push({
    type: 'line', name: observers[o], xAxisIndex: g, yAxisIndex: g, data: pc[3],
    smooth: 0.35, symbol: 'none', showSymbol: false, silent: true, z: 2,
    lineStyle: { color: obsColors[o], width: LINE_W, type: ltyDash(obsLty[o]), cap: 'butt', join: 'round' }
  });
});

// strips
species.forEach(function (s, c) {
  graphics.push({ type: 'rect', z: 101, silent: true,
    shape: { x: colLeft[c], y: stripTop, width: colWidth, height: stripSize },
    style: { fill: '#CCCCCC', stroke: '#333333', lineWidth: 2.2 } });
  graphics.push({ type: 'text', z: 102, silent: true,
    x: colLeft[c] + colWidth / 2, y: stripTop + stripSize / 2,
    style: { text: s, fontSize: 33, fontFamily: FONT, fill: '#1A1A1A', align: 'center', verticalAlign: 'middle' } });
});
var stripLeft = colLeft[2] + colWidth;
years.forEach(function (y, r) {
  graphics.push({ type: 'rect', z: 101, silent: true,
    shape: { x: stripLeft, y: rowTop(r), width: stripSize, height: rowHeight },
    style: { fill: '#CCCCCC', stroke: '#333333', lineWidth: 2.2 } });
  graphics.push({ type: 'text', z: 102, silent: true,
    x: stripLeft + stripSize / 2, y: rowTop(r) + rowHeight / 2, rotation: -Math.PI / 2,
    style: { text: y, fontSize: 33, fontFamily: FONT, fill: '#1A1A1A', align: 'center', verticalAlign: 'middle' } });
});

// axis titles
graphics.push({ type: 'text', z: 102, silent: true, x: 38, y: (rowTop(0) + rowTop(10) + rowHeight) / 2,
  rotation: Math.PI / 2,
  style: { text: 'Density', fontSize: 41, fontFamily: FONT, fill: '#000', align: 'center', verticalAlign: 'middle' } });
graphics.push({ type: 'text', z: 102, silent: true, x: (colLeft[0] + stripLeft) / 2, y: 2355,
  style: { text: 'Fork Length (mm)', fontSize: 41, fontFamily: FONT, fill: '#000', align: 'center', verticalAlign: 'middle' } });

// legend
var legX = 1491.5, legY = 811, keyH = 72.2, keyW = 72;
graphics.push({ type: 'text', z: 102, silent: true, x: 1493, y: 777,
  style: { text: 'Observer', fontSize: 33, fontFamily: FONT, fill: '#000', align: 'left', verticalAlign: 'middle' } });
observers.forEach(function (name, i) {
  var ky = legY + i * keyH;
  graphics.push({ type: 'rect', z: 101, silent: true,
    shape: { x: legX, y: ky, width: keyW, height: keyH },
    style: { fill: '#fff', stroke: '#D3D3D3', lineWidth: 2.5 } });
  var dash = ltyDash(obsLty[i]);
  graphics.push({ type: 'rect', z: 102, silent: true,
    shape: { x: legX + 4, y: ky + 4, width: keyW - 8, height: keyH - 8 },
    style: { fill: 'none', stroke: obsColors[i], lineWidth: LINE_W, lineDash: dash === 'solid' ? null : dash } });
  graphics.push({ type: 'text', z: 102, silent: true, x: 1585, y: ky + keyH / 2,
    style: { text: name, fontSize: 33, fontFamily: FONT, fill: '#000', align: 'left', verticalAlign: 'middle' } });
});

var chart = echarts.init(document.getElementById('chart'));
chart.setOption({
  animation: false,
  backgroundColor: '#fff',
  grid: grids,
  xAxis: xAxes,
  yAxis: yAxes,
  series: series,
  graphic: { elements: graphics }
});
</script>
</body>
</html>
